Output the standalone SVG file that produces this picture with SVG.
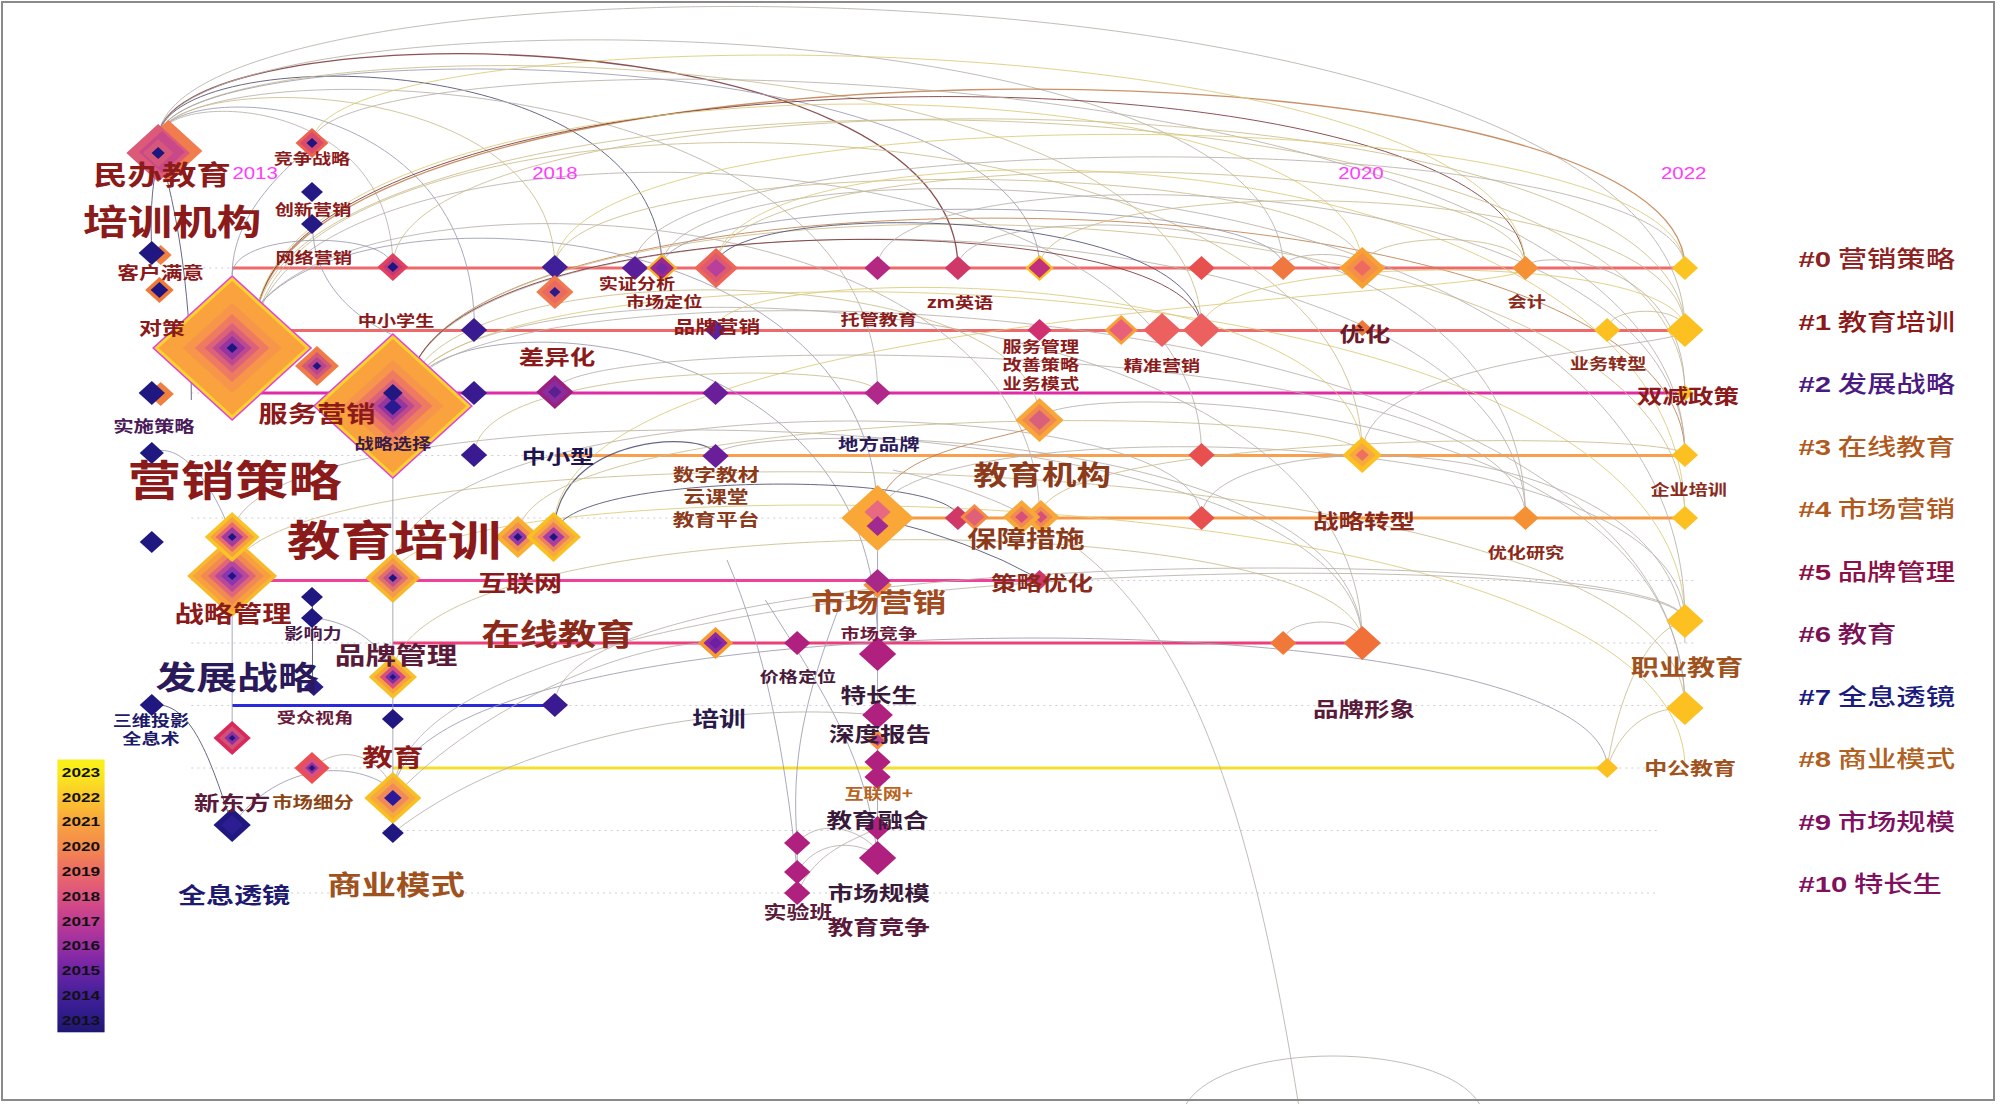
<svg xmlns="http://www.w3.org/2000/svg" xmlns:xlink="http://www.w3.org/1999/xlink" width="2000" height="1104" viewBox="0 0 2000 1104">
<defs>
<path id="d" d="M0-1L.86 0L0 1L-.86 0Z"/>
<linearGradient id="cbar" x1="0" y1="0" x2="0" y2="1">
<stop offset="0" stop-color="#F9F01A"/><stop offset="0.045" stop-color="#F9EC1C"/>
<stop offset="0.136" stop-color="#FCC82C"/><stop offset="0.227" stop-color="#F9A53E"/>
<stop offset="0.318" stop-color="#F48A4C"/><stop offset="0.409" stop-color="#EC6C66"/>
<stop offset="0.5" stop-color="#DC5280"/><stop offset="0.591" stop-color="#C03C92"/>
<stop offset="0.682" stop-color="#9A2EA4"/><stop offset="0.773" stop-color="#6C24A6"/>
<stop offset="0.864" stop-color="#44209A"/><stop offset="0.955" stop-color="#2A1A86"/>
<stop offset="1" stop-color="#1E1670"/>
</linearGradient>
<style>
.arc{fill:none;stroke-width:1;vector-effect:non-scaling-stroke;opacity:.85}
.g1{stroke:#B9B2AA}.g2{stroke:#CDBE8E}.g3{stroke:#9C9CB2}.g4{stroke:#7A3436}.g5{stroke:#4E4E72}.g6{stroke:#DCCB78}.g7{stroke:#C0804E}
.row{fill:none;stroke-width:3}
.dot{fill:none;stroke:#CCCCD6;stroke-width:1;stroke-dasharray:2 4;vector-effect:non-scaling-stroke}
.k{font-family:"Noto Sans CJK SC","Noto Sans CJK TC",sans-serif;font-weight:700;text-anchor:middle}
.yr{font-family:"Liberation Sans",Arial,sans-serif;fill:#FF3CFF;font-size:16px;text-anchor:middle}
.cl{font-family:"Noto Sans CJK SC",sans-serif;font-size:23px;font-weight:500}
.cl tspan.h{font-family:"Liberation Sans",Arial,sans-serif;font-weight:700}
.cb{font-family:"Liberation Sans",Arial,sans-serif;font-weight:700;font-size:13.5px;fill:#111;text-anchor:middle}
</style>
</defs>
<rect width="2000" height="1104" fill="#FFFFFF"/>
<g transform="scale(1.2755 1)">
<g id="rows">
<path class="dot" d="M150 268H1330M150 330.5H1330M150 393H1330M150 455.5H1330M150 518H1330M150 580.5H1330M150 643H1330M150 705.5H1330M150 768H1330M300 830.5H1300M200 893H1300"/>
<path class="row" stroke="#EE6A6A" d="M182 268H1321"/>
<path class="row" stroke="#EE6A6A" d="M182 330.5H1321"/>
<path class="row" stroke="#E02AA8" d="M204 393H1321"/>
<path class="row" stroke="#F8A050" d="M435 455.5H1321"/>
<path class="row" stroke="#F59A42" d="M688 518H1321"/>
<path class="row" stroke="#F0409A" d="M182 580.5H815"/>
<path class="row" stroke="#EC3E78" d="M308 643H1068"/>
<path class="row" stroke="#2A2ADA" d="M182 705.5H435"/>
<path class="row" stroke="#F2E030" d="M308 768H1260"/>
</g>
<g id="connectors">
<path class="arc g1" d="M124 140C124 -62 1321 -62 1321 330"/>
<path class="arc g4" d="M124 140C124 9 751 9 751 268" style="stroke-width:1.3"/>
<path class="arc g5" d="M124 140C124 40 519 40 519 268"/>
<path class="arc g1" d="M124 140C124 -10 1006 -10 1006 268"/>
<path class="arc g2" d="M124 140C124 20 942 20 942 330"/>
<path class="arc g1" d="M124 140C124 50 688 50 688 393"/>
<path class="arc g2" d="M124 140C124 70 435 70 435 268"/>
<path class="arc g3" d="M124 140C124 80 372 80 372 330"/>
<path class="arc g3" d="M124 140C124 30 815 30 815 268"/>
<path class="arc g1" d="M124 140C124 90 308 90 308 267"/>
<path class="arc g5" d="M124 160C118 190 118 220 119 253"/>
<path class="arc g5" d="M128 165C140 220 150 300 150 400"/>
<path class="arc g7" d="M200 330C200 20 1321 20 1321 268" style="stroke-width:1.4"/>
<path class="arc g4" d="M200 330C200 30 1196 30 1196 268"/>
<path class="arc g6" d="M200 330C200 40 1068 40 1068 268"/>
<path class="arc g2" d="M200 330C200 40 1321 40 1321 393"/>
<path class="arc g2" d="M200 340C200 60 1068 60 1068 455"/>
<path class="arc g1" d="M200 340C200 100 942 100 942 455"/>
<path class="arc g1" d="M190 350C190 160 815 160 815 518"/>
<path class="arc g3" d="M190 350C190 180 688 180 688 518"/>
<path class="arc g3" d="M182 275C182 200 245 150 245 143"/>
<path class="arc g3" d="M182 275C182 230 308 230 308 268"/>
<path class="arc g6" d="M245 143C245 10 1196 10 1196 268"/>
<path class="arc g1" d="M245 143C245 30 1321 30 1321 455"/>
<path class="arc g2" d="M308 267C308 60 1321 60 1321 330"/>
<path class="arc g7" d="M320 395C320 150 1321 150 1321 455"/>
<path class="arc g1" d="M320 395C320 170 1196 170 1196 518"/>
<path class="arc g2" d="M320 395C320 150 1321 150 1321 518"/>
<path class="arc g1" d="M320 400C320 250 1068 250 1068 643"/>
<path class="arc g6" d="M320 400C320 230 1321 230 1321 621"/>
<path class="arc g3" d="M320 400C320 300 688 300 688 643"/>
<path class="arc g2" d="M320 400C320 250 815 250 815 420"/>
<path class="arc g4" d="M320 395C320 200 942 200 942 330"/>
<path class="arc g1" d="M320 400C320 250 1321 250 1321 708"/>
<path class="arc g1" d="M182 537C182 380 1068 380 1068 643"/>
<path class="arc g2" d="M182 576C182 420 1321 420 1321 708"/>
<path class="arc g1" d="M308 578C308 380 942 380 942 518"/>
<path class="arc g6" d="M308 578C308 460 1321 460 1321 768"/>
<path class="arc g2" d="M308 677C308 500 1068 500 1068 643"/>
<path class="arc g1" d="M308 798C308 540 1321 540 1321 621"/>
<path class="arc g3" d="M308 798C308 590 1260 590 1260 768"/>
<path class="arc g1" d="M435 705C435 540 1321 540 1321 621"/>
<path class="arc g5" d="M434 537C434 430 561 430 561 456" style="stroke-width:1.2"/>
<path class="arc g5" d="M434 537C434 470 751 470 751 518"/>
<path class="arc g2" d="M406 537C406 400 1068 400 1068 455"/>
<path class="arc g6" d="M434 530C434 300 1196 300 1196 268"/>
<path class="arc g1" d="M435 392C435 330 1196 330 1196 518"/>
<path class="arc g2" d="M435 267C435 150 1068 150 1068 268"/>
<path class="arc g6" d="M435 267C435 90 1321 90 1321 268"/>
<path class="arc g1" d="M497 267C497 120 1321 120 1321 268"/>
<path class="arc g3" d="M519 267C519 190 1006 190 1006 267"/>
<path class="arc g1" d="M519 267C519 130 1321 130 1321 621"/>
<path class="arc g2" d="M561 267C561 140 1196 140 1196 268"/>
<path class="arc g6" d="M561 267C561 110 1321 110 1321 518"/>
<path class="arc g5" d="M561 267C561 200 942 200 942 330"/>
<path class="arc g6" d="M561 330C561 260 1068 260 1068 455"/>
<path class="arc g1" d="M688 267C688 150 1321 150 1321 455"/>
<path class="arc g1" d="M751 267C751 190 1196 190 1196 518"/>
<path class="arc g2" d="M815 267C815 170 1321 170 1321 330"/>
<path class="arc g7" d="M688 518C688 440 815 440 815 420"/>
<path class="arc g5" d="M688 518Q760 540 815 579"/>
<path class="arc g1" d="M688 518C688 410 1321 410 1321 621"/>
<path class="arc g1" d="M815 420C815 380 1321 380 1321 708"/>
<path class="arc g2" d="M815 518C815 430 1321 430 1321 455"/>
<path class="arc g6" d="M942 330C942 250 1321 250 1321 330"/>
<path class="arc g2" d="M1068 268C1068 230 1196 230 1196 268"/>
<path class="arc g1" d="M1006 268C1006 250 1068 250 1068 268"/>
<path class="arc g2" d="M1260 330C1260 305 1321 305 1321 330"/>
<path class="arc g1" d="M1068 455C1068 350 1321 350 1321 330"/>
<path class="arc g1" d="M1196 268C1196 250 1321 250 1321 393"/>
<path class="arc g1" d="M1006 643C1006 615 1068 615 1068 643"/>
<path class="arc g2" d="M1260 768C1268 700 1290 630 1321 621"/>
<path class="arc g2" d="M1260 768C1270 730 1290 708 1321 708"/>
<path class="arc g1" d="M942 518C942 420 1321 420 1321 643"/>
<path class="arc g1" d="M561 456C561 420 1068 420 1068 643"/>
<path class="arc g3" d="M308 478L308 780"/>
<path class="arc g3" d="M688 551L688 860"/>
<path class="arc g5" d="M245 597L245 687"/>
<path class="arc g3" d="M625 843L625 893"/>
<path class="arc g1" d="M625 843C640 820 670 825 688 850"/>
<path class="arc g1" d="M625 872C640 840 670 840 688 855"/>
<path class="arc g1" d="M625 893C640 850 670 840 688 828"/>
<path class="arc g3" d="M625 843C620 760 630 700 660 600"/>
<path class="arc g3" d="M625 872C615 750 600 650 570 560"/>
<path class="arc g3" d="M688 858C680 760 650 700 600 600"/>
<path class="arc g5" d="M119 705C150 700 165 760 182 825"/>
<path class="arc g3" d="M119 453C140 440 165 480 180 530"/>
<path class="arc g3" d="M182 576L182 738"/>
<path class="arc g3" d="M245 618C270 620 300 640 308 677"/>
<path class="arc g3" d="M182 825C220 760 280 760 308 790"/>
<path class="arc g1" d="M245 768C270 740 300 760 308 790"/>
<path class="arc g1" d="M308 798C380 700 500 640 561 643"/>
<path class="arc g1" d="M308 833C400 740 560 700 688 715"/>
<path class="arc g1" d="M700 470C880 520 960 640 1018 1104"/>
<path class="arc g1" d="M930 1104C960 1040 1130 1040 1160 1104"/>
<path class="arc g2" d="M372 455C372 360 688 360 688 393"/>
<path class="arc g3" d="M245 224C245 300 300 330 308 335"/>
</g>
<g id="nodes">
<g id="n-minban" transform="translate(124 153)"><use href="#d" transform="translate(8 -2) scale(31)" fill="#F17C4E"/><use href="#d" transform="scale(29)" fill="#DC5A78"/><use href="#d" transform="translate(3 -1) scale(21)" fill="#C9488A"/><use href="#d" transform="scale(14)" fill="#D5587A"/><use href="#d" transform="scale(6)" fill="#1E1680"/></g>
<g id="n-jingzheng" transform="translate(244.6 143)"><use href="#d" transform="scale(15)" fill="#EE6250"/><use href="#d" transform="scale(11)" fill="#D84A6E"/><use href="#d" transform="scale(5)" fill="#1E1680"/></g>
<g id="n-3" transform="translate(244.6 192)"><use href="#d" transform="scale(10)" fill="#251A85"/></g>
<g id="n-4" transform="translate(244.6 224)"><use href="#d" transform="scale(10)" fill="#251A85"/></g>
<g id="n-5" transform="translate(119 253)"><use href="#d" transform="translate(7 2) scale(10)" fill="#F08040"/><use href="#d" transform="scale(12)" fill="#201880"/></g>
<g id="n-6" transform="translate(125 290)"><use href="#d" transform="scale(13)" fill="#F07838"/><use href="#d" transform="scale(8)" fill="#1E1680"/></g>
<g id="n-duice" transform="translate(182 348)"><use href="#d" transform="scale(73)" fill="#E23FE0"/><use href="#d" transform="scale(71)" fill="#F8D428"/><use href="#d" transform="scale(67)" fill="#F9A23E"/><use href="#d" transform="scale(45)" fill="#F7954A"/><use href="#d" transform="scale(34)" fill="#EE7A62"/><use href="#d" transform="scale(25)" fill="#DC627A"/><use href="#d" transform="scale(18)" fill="#BE4A8E"/><use href="#d" transform="scale(12)" fill="#9634A0"/><use href="#d" transform="scale(5)" fill="#1E1680"/></g>
<g id="n-8" transform="translate(248.5 366)"><use href="#d" transform="scale(20)" fill="#F07A48"/><use href="#d" transform="scale(14)" fill="#D25A78"/><use href="#d" transform="scale(9)" fill="#B8448E"/><use href="#d" transform="scale(4)" fill="#1E1680"/></g>
<g id="n-fuwu" transform="translate(308 406)"><use href="#d" transform="scale(73)" fill="#E23FE0"/><use href="#d" transform="scale(71)" fill="#F8D428"/><use href="#d" transform="scale(67)" fill="#F9A23E"/><use href="#d" transform="scale(46)" fill="#F7954A"/><use href="#d" transform="scale(36)" fill="#EE7A62"/><use href="#d" transform="scale(27)" fill="#DC627A"/><use href="#d" transform="scale(20)" fill="#BE4A8E"/><use href="#d" transform="scale(14)" fill="#9634A0"/><use href="#d" transform="translate(0 -13) scale(9)" fill="#201880"/><use href="#d" transform="translate(0 1) scale(8)" fill="#2A1A90"/></g>
<g id="n-10" transform="translate(308 267)"><use href="#d" transform="scale(14)" fill="#E2405E"/><use href="#d" transform="scale(9)" fill="#C03A7A"/><use href="#d" transform="scale(5)" fill="#1E1680"/></g>
<g id="n-11" transform="translate(371.6 330)"><use href="#d" transform="scale(12)" fill="#3A1A90"/></g>
<g id="n-12" transform="translate(435 267)"><use href="#d" transform="scale(12)" fill="#40209A"/></g>
<g id="n-13" transform="translate(435 292)"><use href="#d" transform="scale(17)" fill="#F07A4E"/><use href="#d" transform="scale(12)" fill="#E86A60"/><use href="#d" transform="scale(5)" fill="#2A1A8A"/></g>
<g id="n-14" transform="translate(371.6 393)"><use href="#d" transform="scale(12)" fill="#3A1A90"/></g>
<g id="n-15" transform="translate(435 392)"><use href="#d" transform="scale(17)" fill="#9A2080"/><use href="#d" transform="scale(12)" fill="#8A2C9E"/><use href="#d" transform="scale(6)" fill="#5A2090"/></g>
<g id="n-16" transform="translate(119 393)"><use href="#d" transform="translate(7 1) scale(12)" fill="#F08040"/><use href="#d" transform="scale(12)" fill="#201880"/></g>
<g id="n-17" transform="translate(119 453)"><use href="#d" transform="scale(11)" fill="#201880"/></g>
<g id="n-18" transform="translate(371.6 455)"><use href="#d" transform="scale(12)" fill="#3A1A90"/></g>
<g id="n-19" transform="translate(119 542)"><use href="#d" transform="scale(11)" fill="#201880"/></g>
<g id="n-zlgl" transform="translate(182 576)"><use href="#d" transform="scale(41)" fill="#F8B82C"/><use href="#d" transform="scale(36)" fill="#F8A040"/><use href="#d" transform="scale(29)" fill="#F08A52"/><use href="#d" transform="scale(22)" fill="#E2667A"/><use href="#d" transform="scale(16)" fill="#B8489A"/><use href="#d" transform="scale(10)" fill="#8A34B0"/><use href="#d" transform="scale(4)" fill="#1E1680"/></g>
<g id="n-20" transform="translate(182 537)"><use href="#d" transform="scale(25)" fill="#F8C428"/><use href="#d" transform="scale(20)" fill="#F6A040"/><use href="#d" transform="scale(15)" fill="#E86A70"/><use href="#d" transform="scale(10)" fill="#A03CA0"/><use href="#d" transform="scale(4)" fill="#1E1680"/></g>
<g id="n-22" transform="translate(308 578)"><use href="#d" transform="scale(25)" fill="#F8B82C"/><use href="#d" transform="scale(20)" fill="#F59A48"/><use href="#d" transform="scale(14)" fill="#E07070"/><use href="#d" transform="scale(9)" fill="#C0508A"/><use href="#d" transform="scale(4)" fill="#1E1680"/></g>
<g id="n-23" transform="translate(406 537)"><use href="#d" transform="scale(21)" fill="#F8B030"/><use href="#d" transform="scale(15)" fill="#F29050"/><use href="#d" transform="scale(9)" fill="#9A3AA8"/><use href="#d" transform="scale(4)" fill="#1E1680"/></g>
<g id="n-24" transform="translate(434 537)"><use href="#d" transform="scale(25)" fill="#F8C020"/><use href="#d" transform="scale(20)" fill="#F8A842"/><use href="#d" transform="scale(15)" fill="#EE7E62"/><use href="#d" transform="scale(10)" fill="#A83EA0"/><use href="#d" transform="scale(4)" fill="#1E1680"/></g>
<g id="n-25" transform="translate(244.6 597)"><use href="#d" transform="scale(10)" fill="#201880"/></g>
<g id="n-26" transform="translate(244.6 618)"><use href="#d" transform="scale(10)" fill="#201880"/></g>
<g id="n-27" transform="translate(246 687)"><use href="#d" transform="scale(9)" fill="#2A1A8A"/></g>
<g id="n-ppgl" transform="translate(308 677)"><use href="#d" transform="scale(22)" fill="#F8C028"/><use href="#d" transform="scale(17)" fill="#F7A040"/><use href="#d" transform="scale(12)" fill="#D8507A"/><use href="#d" transform="scale(7)" fill="#7A30A8"/><use href="#d" transform="scale(3)" fill="#1E1680"/></g>
<g id="n-29" transform="translate(435 705)"><use href="#d" transform="scale(12)" fill="#3A1A90"/></g>
<g id="n-30" transform="translate(119 705)"><use href="#d" transform="scale(11)" fill="#201880"/></g>
<g id="n-31" transform="translate(182 738)"><use href="#d" transform="scale(17)" fill="#D8285C"/><use href="#d" transform="scale(12)" fill="#D05078"/><use href="#d" transform="scale(7)" fill="#8A30A0"/><use href="#d" transform="scale(3)" fill="#1E1680"/></g>
<g id="n-32" transform="translate(308 719)"><use href="#d" transform="scale(10)" fill="#201880"/></g>
<g id="n-33" transform="translate(244.6 768)"><use href="#d" transform="scale(16)" fill="#EE4E50"/><use href="#d" transform="scale(11)" fill="#D8507C"/><use href="#d" transform="scale(6)" fill="#9030A0"/><use href="#d" transform="scale(3)" fill="#1E1680"/></g>
<g id="n-jiaoyu" transform="translate(308 798)"><use href="#d" transform="scale(26)" fill="#F8C020"/><use href="#d" transform="scale(21)" fill="#F8A840"/><use href="#d" transform="scale(15)" fill="#F08A58"/><use href="#d" transform="scale(8)" fill="#2A1A9A"/></g>
<g id="n-xdf" transform="translate(182 825)"><use href="#d" transform="scale(17)" fill="#201880"/><use href="#d" transform="scale(10)" fill="#2C1E92"/></g>
<g id="n-36" transform="translate(308 833)"><use href="#d" transform="scale(10)" fill="#201880"/></g>
<g id="n-37" transform="translate(497.8 268)"><use href="#d" transform="scale(12)" fill="#5A1E9A"/></g>
<g id="n-38" transform="translate(519 268)"><use href="#d" transform="scale(14)" fill="#F8B020"/><use href="#d" transform="scale(11)" fill="#9A2A90"/><use href="#d" transform="scale(6)" fill="#7A2AA0"/></g>
<g id="n-39" transform="translate(561.4 268)"><use href="#d" transform="scale(20)" fill="#EE6658"/><use href="#d" transform="scale(15)" fill="#DE5A6E"/><use href="#d" transform="scale(9)" fill="#B8409A"/></g>
<g id="n-40" transform="translate(688 268)"><use href="#d" transform="scale(12)" fill="#B42882"/></g>
<g id="n-41" transform="translate(751 268)"><use href="#d" transform="scale(12)" fill="#D03868"/></g>
<g id="n-42" transform="translate(815 268)"><use href="#d" transform="scale(13)" fill="#F8C020"/><use href="#d" transform="scale(10)" fill="#C0307E"/></g>
<g id="n-43" transform="translate(942 268)"><use href="#d" transform="scale(12)" fill="#E85050"/></g>
<g id="n-44" transform="translate(1006 268)"><use href="#d" transform="scale(12)" fill="#F07840"/></g>
<g id="n-45" transform="translate(1068 268)"><use href="#d" transform="scale(21)" fill="#F8A030"/><use href="#d" transform="scale(15)" fill="#F49048"/><use href="#d" transform="scale(8)" fill="#EE6A60"/></g>
<g id="n-46" transform="translate(1196 268)"><use href="#d" transform="scale(12)" fill="#F59035"/></g>
<g id="n-47" transform="translate(1321 268)"><use href="#d" transform="scale(12)" fill="#FCC420"/></g>
<g id="n-48" transform="translate(561 330)"><use href="#d" transform="scale(10)" fill="#5A22A0"/></g>
<g id="n-49" transform="translate(815 330)"><use href="#d" transform="scale(11)" fill="#D03070"/></g>
<g id="n-50" transform="translate(879 330)"><use href="#d" transform="scale(15)" fill="#F8A038"/><use href="#d" transform="scale(11)" fill="#E8607A"/></g>
<g id="n-51" transform="translate(911 330)"><use href="#d" transform="scale(17)" fill="#EC6060"/></g>
<g id="n-52" transform="translate(942 330)"><use href="#d" transform="scale(17)" fill="#EC6060"/></g>
<g id="n-53" transform="translate(1068 328)"><use href="#d" transform="scale(8)" fill="#F07838"/></g>
<g id="n-54" transform="translate(1260 330)"><use href="#d" transform="scale(12)" fill="#FCC020"/></g>
<g id="n-55" transform="translate(1321 330)"><use href="#d" transform="scale(17)" fill="#FCC020"/></g>
<g id="n-56" transform="translate(561 393)"><use href="#d" transform="scale(12)" fill="#6A1E9A"/></g>
<g id="n-57" transform="translate(688 393)"><use href="#d" transform="scale(12)" fill="#B0288A"/></g>
<g id="n-58" transform="translate(1321 393)"><use href="#d" transform="scale(8)" fill="#F8C020"/></g>
<g id="n-59" transform="translate(561 456)"><use href="#d" transform="scale(12)" fill="#6A1E9A"/></g>
<g id="n-60" transform="translate(815 420)"><use href="#d" transform="scale(22)" fill="#F8A838"/><use href="#d" transform="scale(16)" fill="#F28A50"/><use href="#d" transform="scale(10)" fill="#D8607A"/></g>
<g id="n-61" transform="translate(942 455)"><use href="#d" transform="scale(12)" fill="#E85050"/></g>
<g id="n-62" transform="translate(1068 455)"><use href="#d" transform="scale(18)" fill="#FCC020"/><use href="#d" transform="scale(12)" fill="#F8A840"/><use href="#d" transform="scale(6)" fill="#EE7060"/></g>
<g id="n-63" transform="translate(1321 455)"><use href="#d" transform="scale(12)" fill="#FCC020"/></g>
<g id="n-scyx" transform="translate(688 518)"><use href="#d" transform="scale(33)" fill="#F9A838"/><use href="#d" transform="translate(0 -6) scale(12)" fill="#E86A80"/><use href="#d" transform="translate(0 8) scale(10)" fill="#A02A90"/></g>
<g id="n-65" transform="translate(751 518)"><use href="#d" transform="scale(12)" fill="#D03868"/></g>
<g id="n-66" transform="translate(764 517)"><use href="#d" transform="scale(13)" fill="#F58A40"/><use href="#d" transform="scale(9)" fill="#E0607A"/></g>
<g id="n-68" transform="translate(816 517)"><use href="#d" transform="scale(17)" fill="#F8A838"/><use href="#d" transform="scale(11)" fill="#F08A50"/><use href="#d" transform="scale(6)" fill="#D8507A"/></g>
<g id="n-67" transform="translate(801 517)"><use href="#d" transform="scale(17)" fill="#F8A838"/><use href="#d" transform="scale(11)" fill="#F08A50"/><use href="#d" transform="scale(6)" fill="#D8507A"/></g>
<g id="n-69" transform="translate(942 518)"><use href="#d" transform="scale(12)" fill="#E85050"/></g>
<g id="n-70" transform="translate(1196 518)"><use href="#d" transform="scale(12)" fill="#F59035"/></g>
<g id="n-71" transform="translate(1321 518)"><use href="#d" transform="scale(12)" fill="#FCC020"/></g>
<g id="n-72" transform="translate(688 581)"><use href="#d" transform="translate(0 4) scale(13)" fill="#F39040"/><use href="#d" transform="scale(12)" fill="#A8288A"/></g>
<g id="n-73" transform="translate(815 580)"><use href="#d" transform="scale(10)" fill="#D03868"/></g>
<g id="n-74" transform="translate(561 643)"><use href="#d" transform="scale(16)" fill="#F79A30"/><use href="#d" transform="scale(11)" fill="#8A28A8"/><use href="#d" transform="scale(6)" fill="#6A20A0"/></g>
<g id="n-75" transform="translate(625 643)"><use href="#d" transform="scale(12)" fill="#B0207E"/></g>
<g id="n-76" transform="translate(688 654)"><use href="#d" transform="scale(17)" fill="#B0207E"/></g>
<g id="n-77" transform="translate(1006 643)"><use href="#d" transform="scale(12)" fill="#F07838"/></g>
<g id="n-78" transform="translate(1068 643)"><use href="#d" transform="scale(17)" fill="#F07038"/></g>
<g id="n-79" transform="translate(1321 621)"><use href="#d" transform="scale(17)" fill="#FCC020"/></g>
<g id="n-80" transform="translate(688 715)"><use href="#d" transform="scale(14)" fill="#B0207E"/></g>
<g id="n-81" transform="translate(1321 708)"><use href="#d" transform="scale(17)" fill="#FCC020"/></g>
<g id="n-82" transform="translate(688 740)"><use href="#d" transform="scale(10)" fill="#F59040"/><use href="#d" transform="scale(6)" fill="#C0408A"/></g>
<g id="n-83" transform="translate(688 762)"><use href="#d" transform="scale(12)" fill="#B0207E"/></g>
<g id="n-84" transform="translate(688 777)"><use href="#d" transform="scale(12)" fill="#B0207E"/></g>
<g id="n-85" transform="translate(688 828)"><use href="#d" transform="scale(12)" fill="#B0207E"/></g>
<g id="n-86" transform="translate(688 858)"><use href="#d" transform="scale(17)" fill="#B0207E"/></g>
<g id="n-87" transform="translate(625 843)"><use href="#d" transform="scale(12)" fill="#B0207E"/></g>
<g id="n-88" transform="translate(625 872)"><use href="#d" transform="scale(12)" fill="#B0207E"/></g>
<g id="n-89" transform="translate(625 893)"><use href="#d" transform="scale(12)" fill="#B0207E"/></g>
<g id="n-90" transform="translate(1260 768)"><use href="#d" transform="scale(10)" fill="#FCC020"/></g>
</g>
<g id="years">
<text class="yr" x="200" y="179">2013</text>
<text class="yr" x="435" y="179">2018</text>
<text class="yr" x="1067" y="179">2020</text>
<text class="yr" x="1320" y="179">2022</text>
</g>
<g id="labels" class="k">
<text x="127" y="185" font-size="27" fill="#8B1A1A">民办教育</text>
<text x="135" y="235" font-size="35" fill="#8B1A1A">培训机构</text>
<text x="244.6" y="164" font-size="15" fill="#8B1A1A">竞争战略</text>
<text x="245.4" y="215" font-size="15" fill="#8B1A1A">创新营销</text>
<text x="246" y="263" font-size="15" fill="#8B1A1A">网络营销</text>
<text x="126" y="279.5" font-size="17" fill="#8B1A1A">客户满意</text>
<text x="127" y="335" font-size="18" fill="#8B1A1A">对策</text>
<text x="310.5" y="326" font-size="15" fill="#8B1A1A">中小学生</text>
<text x="436.7" y="364.6" font-size="20" fill="#8B1A1A">差异化</text>
<text x="248.5" y="422" font-size="23" fill="#8B1A1A">服务营销</text>
<text x="120.7" y="432" font-size="16" fill="#4A1A5A">实施策略</text>
<text x="308" y="449" font-size="15" fill="#3A1A4A">战略选择</text>
<text x="437.5" y="464" font-size="19" fill="#1E1450">中小型</text>
<text x="184" y="496" font-size="42" fill="#8B1A1A">营销策略</text>
<text x="309" y="556" font-size="42" fill="#8B1A1A">教育培训</text>
<text x="407.7" y="591" font-size="22" fill="#8B1A1A">互联网</text>
<text x="182.7" y="622" font-size="23" fill="#8B1A1A">战略管理</text>
<text x="245.4" y="639" font-size="15" fill="#4A1A4A">影响力</text>
<text x="437.5" y="645.4" font-size="30" fill="#8B2A1A">在线教育</text>
<text x="310.5" y="664" font-size="24" fill="#5A1A3A">品牌管理</text>
<text x="185.8" y="689" font-size="32" fill="#2A1A5A">发展战略</text>
<text x="118.4" y="726" font-size="15" fill="#1E1A6A">三维投影</text>
<text x="118.4" y="744" font-size="15" fill="#1E1A6A">全息术</text>
<text x="247" y="723" font-size="15" fill="#6A1A3A">受众视角</text>
<text x="308" y="766" font-size="24" fill="#8B1A1A">教育</text>
<text x="182" y="810.6" font-size="20" fill="#5A1A3A">新东方</text>
<text x="245.4" y="808" font-size="16" fill="#8B4513">市场细分</text>
<text x="183.5" y="903" font-size="22" fill="#1E1A70">全息透镜</text>
<text x="310.5" y="895" font-size="27" fill="#A0521E">商业模式</text>
<text x="499.4" y="289" font-size="15" fill="#8B1A1A">实证分析</text>
<text x="520.6" y="307" font-size="15" fill="#8B1A1A">市场定位</text>
<text x="562" y="333.5" font-size="17" fill="#8B1A1A">品牌营销</text>
<text x="689" y="325" font-size="15" fill="#8B1A1A">托管教育</text>
<text x="752.6" y="308" font-size="15" fill="#8B1A1A">zm英语</text>
<text x="816" y="352" font-size="15" fill="#8B1A1A">服务管理</text>
<text x="816" y="370" font-size="15" fill="#8B1A1A">改善策略</text>
<text x="816" y="389" font-size="15" fill="#8B1A1A">业务模式</text>
<text x="911" y="371" font-size="15" fill="#8B1A1A">精准营销</text>
<text x="561.4" y="481" font-size="17" fill="#8B3A1A">数字教材</text>
<text x="561.4" y="503.5" font-size="17" fill="#8B3A1A">云课堂</text>
<text x="561.4" y="526" font-size="17" fill="#8B3A1A">教育平台</text>
<text x="689" y="450" font-size="16" fill="#2A1A5A">地方品牌</text>
<text x="817" y="485" font-size="27" fill="#8B3A1A">教育机构</text>
<text x="804.4" y="546.7" font-size="23" fill="#8B3A1A">保障措施</text>
<text x="817" y="590.6" font-size="20" fill="#8B2A1A">策略优化</text>
<text x="689" y="612" font-size="26.5" fill="#A04A1E">市场营销</text>
<text x="689" y="639" font-size="15" fill="#6A1A3A">市场竞争</text>
<text x="625.6" y="682" font-size="15" fill="#4A1A3A">价格定位</text>
<text x="689" y="702.6" font-size="20" fill="#3A1A3A">特长生</text>
<text x="563.7" y="726" font-size="21" fill="#2A1A4A">培训</text>
<text x="690" y="741.6" font-size="20" fill="#3A1A3A">深度报告</text>
<text x="689" y="799" font-size="15" fill="#B8641E">互联网+</text>
<text x="688" y="827.6" font-size="20" fill="#3A1A3A">教育融合</text>
<text x="689" y="900.6" font-size="20" fill="#3A1A3A">市场规模</text>
<text x="625.6" y="919" font-size="18" fill="#5A1A3A">实验班</text>
<text x="689" y="934.6" font-size="20" fill="#5A1A3A">教育竞争</text>
<text x="1197" y="307" font-size="15" fill="#8B2A1A">会计</text>
<text x="1070" y="341.6" font-size="20" fill="#6A1A2A">优化</text>
<text x="1260.7" y="369" font-size="15" fill="#8B2A1A">业务转型</text>
<text x="1323.4" y="403.6" font-size="20" fill="#8B1A1A">双减政策</text>
<text x="1324" y="495" font-size="15" fill="#8B2A1A">企业培训</text>
<text x="1069.4" y="528.6" font-size="20" fill="#8B2A1A">战略转型</text>
<text x="1196.4" y="558" font-size="15" fill="#8B2A1A">优化研究</text>
<text x="1069.4" y="716.6" font-size="20" fill="#5A1A3A">品牌形象</text>
<text x="1322.6" y="675" font-size="22" fill="#A0521E">职业教育</text>
<text x="1325" y="775" font-size="18" fill="#A0521E">中公教育</text>
</g>
<g id="clusters" class="cl">
<text x="1410" y="267" fill="#8C2222"><tspan class="h">#0</tspan> 营销策略</text>
<text x="1410" y="330" fill="#8C1818"><tspan class="h">#1</tspan> 教育培训</text>
<text x="1410" y="392" fill="#4B1A80"><tspan class="h">#2</tspan> 发展战略</text>
<text x="1410" y="455" fill="#B05A20"><tspan class="h">#3</tspan> 在线教育</text>
<text x="1410" y="517" fill="#B05A20"><tspan class="h">#4</tspan> 市场营销</text>
<text x="1410" y="580" fill="#8C1048"><tspan class="h">#5</tspan> 品牌管理</text>
<text x="1410" y="642" fill="#7A1055"><tspan class="h">#6</tspan> 教育</text>
<text x="1410" y="705" fill="#1A1A80"><tspan class="h">#7</tspan> 全息透镜</text>
<text x="1410" y="767" fill="#B06020"><tspan class="h">#8</tspan> 商业模式</text>
<text x="1410" y="830" fill="#801060"><tspan class="h">#9</tspan> 市场规模</text>
<text x="1410" y="892" fill="#801060"><tspan class="h">#10</tspan> 特长生</text>
</g>
<g id="colorbar">
<rect x="45" y="759.5" width="37" height="272.8" fill="url(#cbar)"/>
<text class="cb" x="63.5" y="777">2023</text>
<text class="cb" x="63.5" y="802">2022</text>
<text class="cb" x="63.5" y="826.5">2021</text>
<text class="cb" x="63.5" y="851">2020</text>
<text class="cb" x="63.5" y="876">2019</text>
<text class="cb" x="63.5" y="901">2018</text>
<text class="cb" x="63.5" y="925.7">2017</text>
<text class="cb" x="63.5" y="950.5">2016</text>
<text class="cb" x="63.5" y="975">2015</text>
<text class="cb" x="63.5" y="1000">2014</text>
<text class="cb" x="63.5" y="1025">2013</text>
</g>
</g>
<rect x="2" y="2" width="1992" height="1098" fill="none" stroke="#8A8A8A" stroke-width="2"/>
</svg>
